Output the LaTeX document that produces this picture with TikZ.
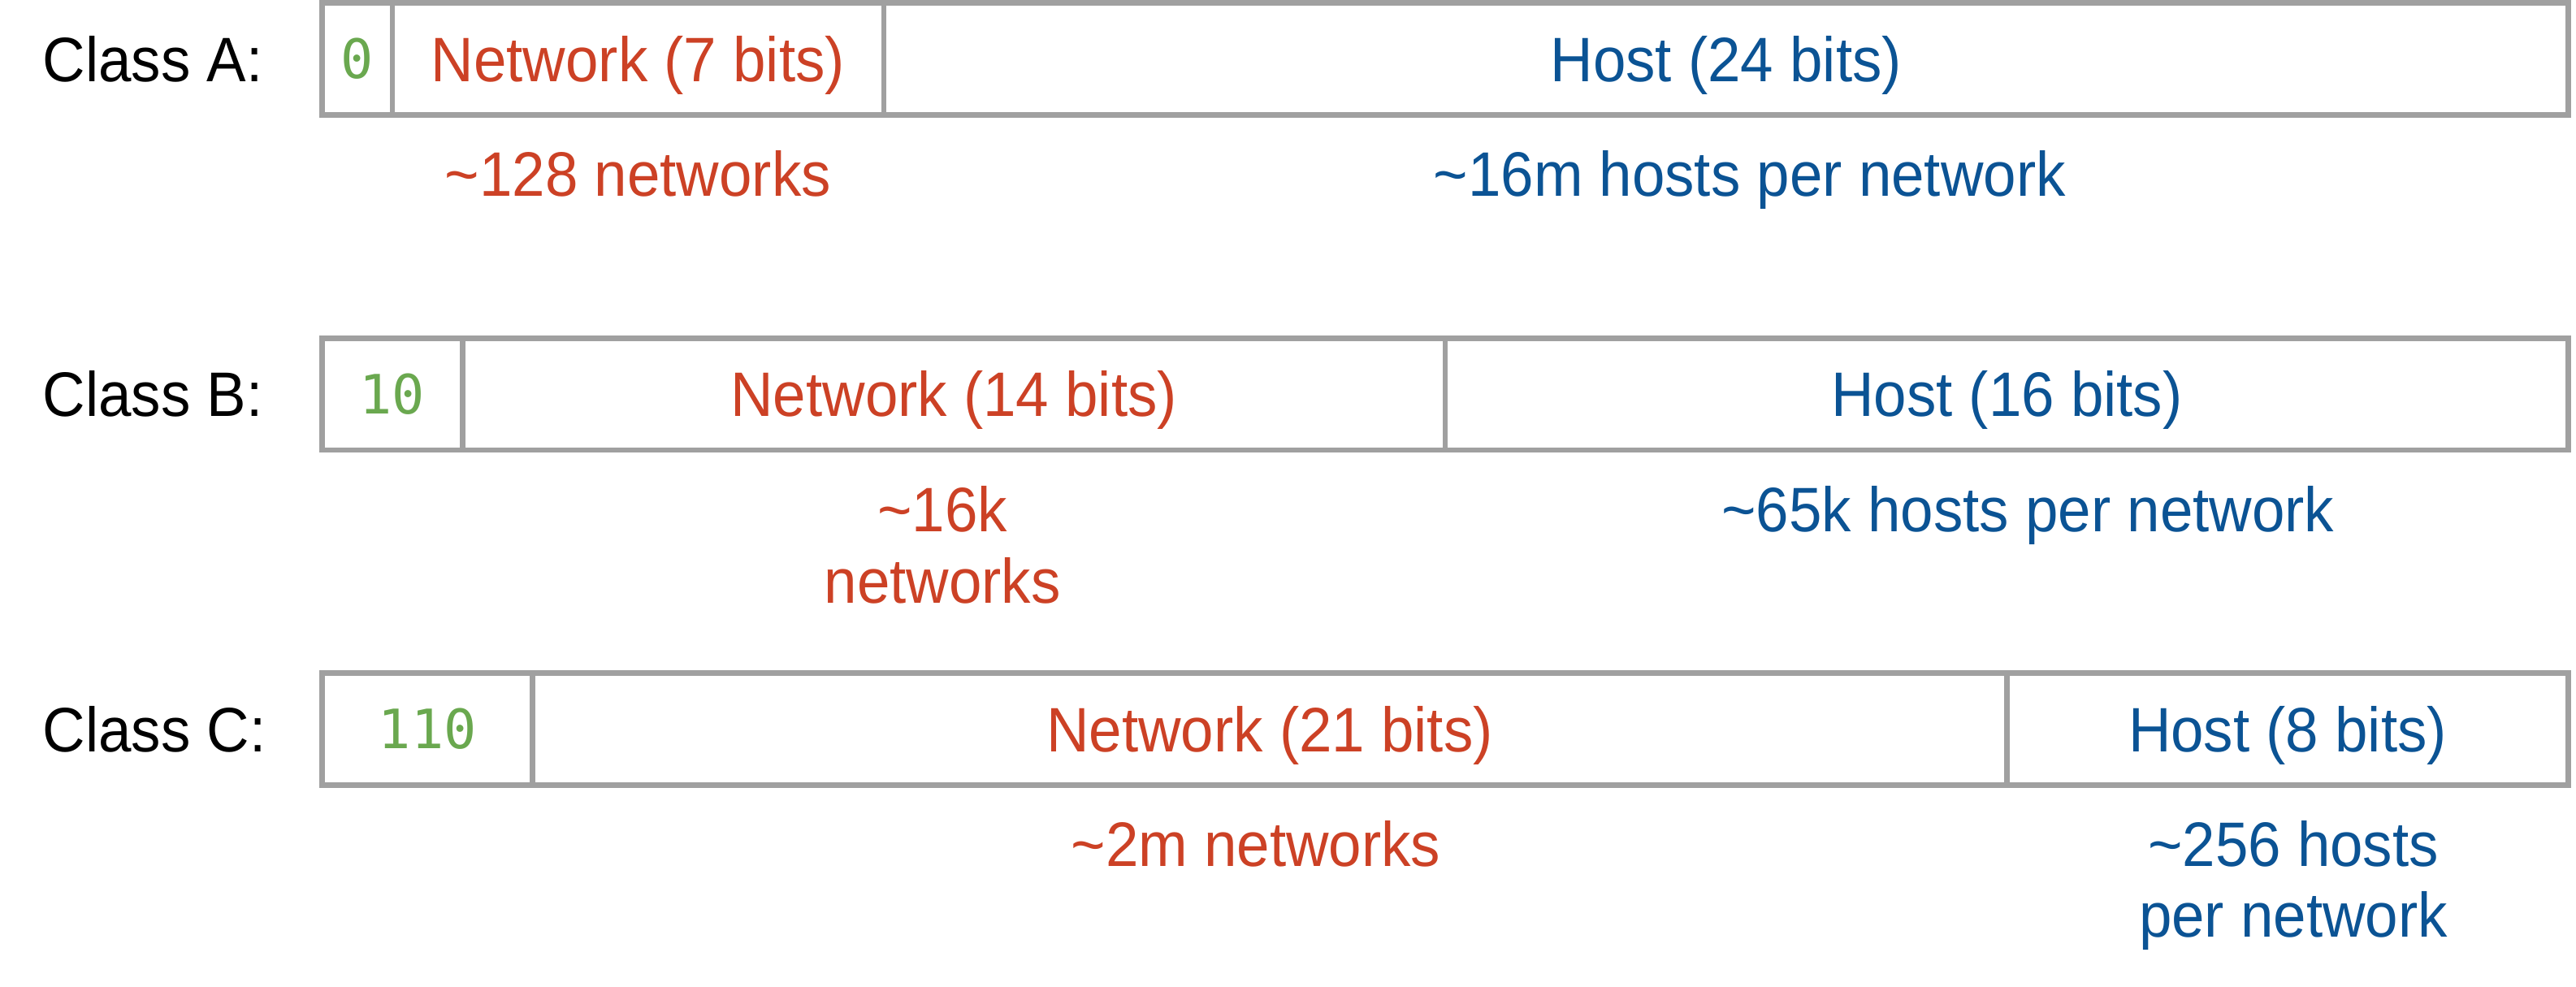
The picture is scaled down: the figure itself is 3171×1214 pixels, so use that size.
\documentclass[tikz,border=0pt]{standalone}
\usepackage{fontspec}
\setmainfont{Liberation Sans}[FakeStretch=0.94]
\newfontfamily\bitsfont{DejaVu Sans Mono}
\usepackage{tikz}
\usetikzlibrary{positioning}
\definecolor{netred}{HTML}{CC4125}
\definecolor{hostblue}{HTML}{0B5394}
\definecolor{bitgreen}{HTML}{6AA84F}
\definecolor{fieldgray}{HTML}{A0A0A0}

\begin{document}
\begin{tikzpicture}[x=0.01cm, y=-0.01cm,
	field/.style={rectangle, draw=fieldgray, line width=1.85pt, inner sep=0pt, outer sep=0pt, minimum height=1.375cm, minimum width=#1*0.8636cm, font=\fontsize{22}{24.8}\selectfont, text height=15.75pt, text depth=0pt},
	prefix/.style={field=#1, text=bitgreen, font=\fontsize{19}{22}\bitsfont, text height=13.85pt},
	classlabel/.style={anchor=west, inner sep=0pt, font=\fontsize{22}{24.8}\selectfont, text height=15.75pt, text depth=0pt},
	note/.style={inner sep=0pt, align=center, font=\fontsize{22}{24.8}\selectfont}]
	\useasboundingbox (0,0) rectangle (3171,1214);
	\foreach \cls/\pre/\pb/\nb/\hb/\y in {A/0/1/7/24/72.5, B/10/2/14/16/485.25, C/110/3/21/8/897.5} {
		\node[classlabel] (cls\cls) at (52,\y) {Class \cls:};
		\node[prefix=\pb, anchor=west] (pre\cls) at (396.5,\y) {\pre};
		\node[field=\nb, text=netred, right=0pt of pre\cls] (net\cls) {Network (\nb\ bits)};
		\node[field=\hb, text=hostblue, right=0pt of net\cls] (host\cls) {Host (\hb\ bits)};
	}
	\node[note, text=netred, below=0.43cm of netA] (netnoteA) {\textasciitilde128 networks};
	\node[note, text=hostblue, below=0.43cm of hostA, xshift=0.29cm] (hostnoteA) {\textasciitilde16m hosts per network};
	\node[note, text=netred, below=0.44cm of netB, xshift=-0.14cm] (netnoteB) {\textasciitilde16k\\networks};
	\node[note, text=hostblue, below=0.44cm of hostB, xshift=0.26cm] (hostnoteB) {\textasciitilde65k hosts per network};
	\node[note, text=netred, below=0.43cm of netC, xshift=-0.17cm] (netnoteC) {\textasciitilde2m networks};
	\node[note, text=hostblue, below=0.43cm of hostC, xshift=0.07cm] (hostnoteC) {\textasciitilde256 hosts\\per network};
\end{tikzpicture}
\end{document}
